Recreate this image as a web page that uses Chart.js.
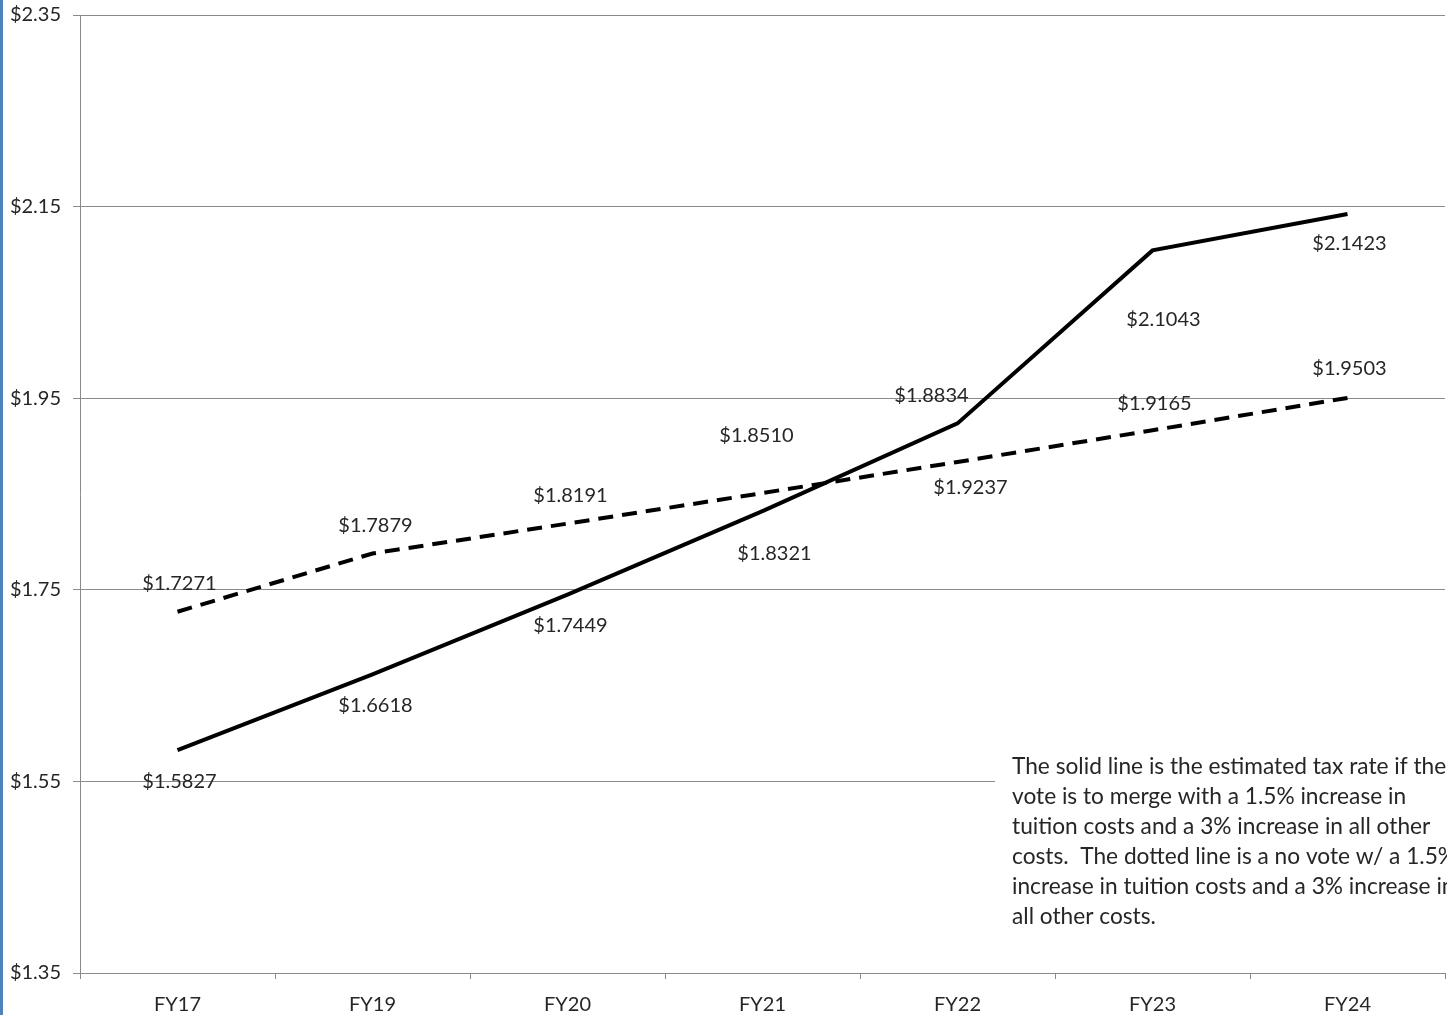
<!DOCTYPE html>
<html>
<head>
<meta charset="utf-8">
<script src="https://cdn.jsdelivr.net/npm/chart.js@4/dist/chart.umd.min.js"></script>
<style>
  html, body { margin: 0; padding: 0; background: #ffffff; overflow: hidden; }
  #wrap { width: 1447px; height: 1015px; position: relative; }
</style>
</head>
<body>
<div id="wrap"><canvas id="c" width="1447" height="1015"></canvas></div>
<script>
// Fiscal years shown on the horizontal axis
const categories = ['FY17', 'FY19', 'FY20', 'FY21', 'FY22', 'FY23', 'FY24'];
// Estimated tax rate if the vote is to merge (solid line)
const mergeRates = [1.5827, 1.6618, 1.7449, 1.8321, 1.9237, 2.1043, 2.1423];
// Estimated tax rate with a no vote (dashed line)
const noVoteRates = [1.7271, 1.7879, 1.8191, 1.8510, 1.8834, 1.9165, 1.9503];
// Value-axis tick values
const yTickValues = [1.35, 1.55, 1.75, 1.95, 2.15, 2.35];
// Explanatory note text
const noteLines = [
  'The solid line is the estimated tax rate if the',
  'vote is to merge with a 1.5% increase in',
  'tuition costs and a 3% increase in all other',
  'costs.  The dotted line is a no vote w/ a 1.5%',
  'increase in tuition costs and a 3% increase in',
  'all other costs.'
];

// Per-point label nudges in pixels (dx, dy) from each plotted point
const mergeLabelNudge = [[2, 31], [3, 31], [3, 31], [12, 42], [13, 64], [11, 69], [2, 30]];
const noVoteLabelNudge = [[2, -28], [3, -28], [3, -28], [-6, -57], [-26, -66], [2, -27], [2, -29]];

const FONT = 'Lato, "Open Sans", sans-serif';
const TEXT_COLOR = '#262626';
const AXIS_COLOR = '#8a8a8a';

const fmt = v => '$' + Number(v).toFixed(4);

const valueLabels = {
  id: 'valueLabels',
  afterDatasetsDraw(chart) {
    const ctx = chart.ctx;
    ctx.save();
    ctx.font = '20px ' + FONT;
    ctx.fillStyle = TEXT_COLOR;
    ctx.textAlign = 'center';
    ctx.textBaseline = 'middle';
    chart.data.datasets.forEach((ds, di) => {
      const meta = chart.getDatasetMeta(di);
      const nudge = ds.labelNudge;
      meta.data.forEach((pt, i) => {
        ctx.fillText(fmt(ds.data[i]), pt.x + nudge[i][0], pt.y + nudge[i][1]);
      });
    });
    ctx.restore();
  }
};

const noteBox = {
  id: 'noteBox',
  afterDraw(chart) {
    const ctx = chart.ctx;
    ctx.save();
    ctx.fillStyle = '#ffffff';
    ctx.fillRect(995, 750, 460, 185);
    ctx.font = '22.7px ' + FONT;
    ctx.fillStyle = TEXT_COLOR;
    ctx.textAlign = 'left';
    ctx.textBaseline = 'middle';
    noteLines.forEach((line, i) => {
      ctx.fillText(line, 1012, 767 + i * 30);
    });
    // left page border
    ctx.fillStyle = '#4f81bd';
    ctx.fillRect(0, 0, 3, chart.height);
    ctx.restore();
  }
};

new Chart(document.getElementById('c'), {
  type: 'line',
  data: {
    labels: categories,
    datasets: [
      {
        label: 'No vote',
        data: noVoteRates,
        labelNudge: noVoteLabelNudge,
        borderColor: '#000000',
        borderWidth: 4,
        borderDash: [15, 9],
        borderCapStyle: 'butt',
        pointRadius: 0,
        tension: 0,
        fill: false
      },
      {
        label: 'Merge',
        data: mergeRates,
        labelNudge: mergeLabelNudge,
        borderColor: '#000000',
        borderWidth: 4,
        borderJoinStyle: 'miter',
        pointRadius: 0,
        tension: 0,
        fill: false
      }
    ]
  },
  options: {
    responsive: false,
    animation: false,
    devicePixelRatio: 1,
    layout: { padding: { top: 0, right: 2, left: 0, bottom: 0 } },
    plugins: {
      legend: { display: false },
      tooltip: { enabled: false }
    },
    scales: {
      x: {
        type: 'category',
        offset: true,
        afterFit(scale) {
          scale.height = 42;
          scale.paddingLeft = 0;
          scale.paddingRight = 0;
        },
        grid: {
          offset: true,
          drawOnChartArea: false,
          drawTicks: true,
          tickLength: 6,
          color: AXIS_COLOR
        },
        border: { display: true, color: AXIS_COLOR, width: 1 },
        ticks: {
          color: TEXT_COLOR,
          font: { family: FONT, size: 20 },
          padding: 14,
          maxRotation: 0,
          autoSkip: false
        }
      },
      y: {
        min: 1.35,
        max: 2.35,
        afterFit(scale) {
          scale.width = 80;
          scale.paddingTop = 15;
          scale.paddingBottom = 0;
        },
        afterBuildTicks(scale) {
          scale.ticks = yTickValues.map(v => ({ value: v }));
        },
        grid: {
          color: AXIS_COLOR,
          lineWidth: 1,
          drawTicks: true,
          tickLength: 7
        },
        border: { display: true, color: AXIS_COLOR, width: 1 },
        ticks: {
          color: TEXT_COLOR,
          font: { family: FONT, size: 20 },
          padding: 12,
          callback: v => '$' + Number(v).toFixed(2)
        }
      }
    }
  },
  plugins: [valueLabels, noteBox]
});
</script>
</body>
</html>
